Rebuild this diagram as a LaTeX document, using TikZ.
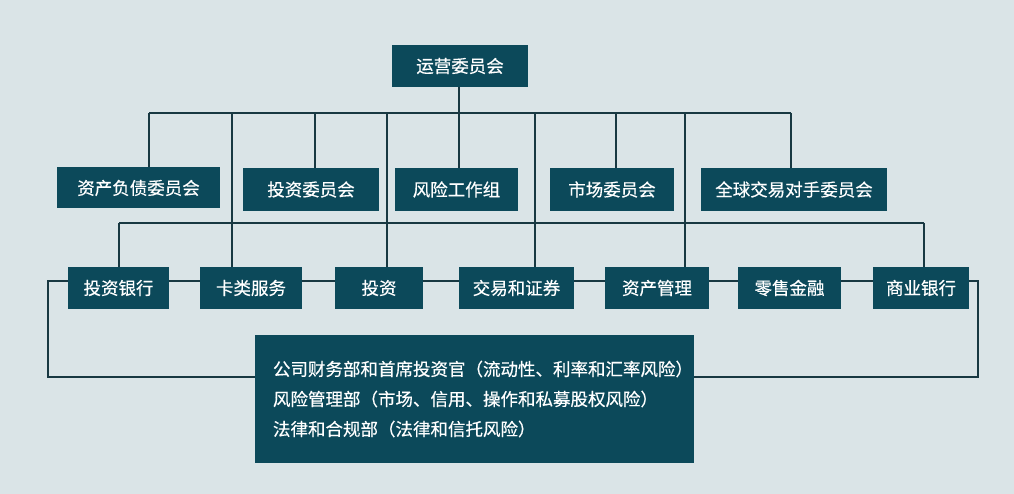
\documentclass[tikz,border=0pt]{standalone}
\usepackage{fontspec}
\setmainfont[FakeBold=0.4,AutoFakeBold=false]{Noto Sans CJK SC}
\definecolor{bgc}{RGB}{218,228,231}
\definecolor{boxc}{RGB}{12,73,90}
\definecolor{linec}{RGB}{24,56,66}
\begin{document}
\begin{tikzpicture}[x=1pt,y=-1pt,
  orgbox/.style={fill=boxc,text=white,inner sep=0pt,minimum height=42pt,
    font=\fontsize{17.5}{20}\selectfont},
  conn/.style={draw=linec,line width=1.3pt}]
\fill[bgc] (0,0) rectangle (1014,494);
\useasboundingbox (0,0) rectangle (1014,494);
% top
\node[orgbox,minimum width=136pt] (top) at (460,66) {运营委员会};
% committees
\node[orgbox,minimum width=163pt,minimum height=41pt] (A1) at (138.5,188) {资产负债委员会};
\node[orgbox,minimum width=136pt,minimum height=43pt] (A2) at (311,189.5) {投资委员会};
\node[orgbox,minimum width=123pt,minimum height=43pt] (A3) at (456.5,189.5) {风险工作组};
\node[orgbox,minimum width=124pt,minimum height=43pt] (A4) at (612,189.5) {市场委员会};
\node[orgbox,minimum width=186pt,minimum height=43pt] (A5) at (794,189.5) {全球交易对手委员会};
% business units
\node[orgbox,minimum width=101pt] (B1) at (118.5,288) {投资银行};
\node[orgbox,minimum width=102pt] (B2) at (251,288) {卡类服务};
\node[orgbox,minimum width=88pt] (B3) at (379,288) {投资};
\node[orgbox,minimum width=115pt] (B4) at (516.5,288) {交易和证券};
\node[orgbox,minimum width=104pt] (B5) at (657,288) {资产管理};
\node[orgbox,minimum width=103pt] (B6) at (789.5,288) {零售金融};
\node[orgbox,minimum width=96pt] (B7) at (921,288) {商业银行};
% bottom
\node[fill=boxc,text=white,minimum width=439pt,minimum height=128pt,
  inner xsep=18pt,inner ysep=0pt,text width=403pt,align=left,
  font=\fontsize{17.5}{30}\selectfont] (C) at (474.5,399)
  {公司财务部和首席投资官（流动性、利率和汇率风险）\\
   风险管理部（市场、信用、操作和私募股权风险）\\
   法律和合规部（法律和信托风险）};
% coordinates
\coordinate (hl) at (0,281);
\coordinate (lp) at (0,377);
\coordinate (L) at (48,281);
\coordinate (R) at (978,281);
\coordinate (t1) at (149,113);
\coordinate (t2) at (232,113);
\coordinate (t3) at (315,113);
\coordinate (t4) at (387,113);
\coordinate (t5) at (459,113);
\coordinate (t6) at (535,113);
\coordinate (t7) at (616,113);
\coordinate (t8) at (685,113);
\coordinate (t9) at (791,113);
\coordinate (u1) at (119,223);
\coordinate (u2) at (924,223);
% connectors
\draw[conn] (top.south -| t5) -- (t5);
\draw[conn] (t1) -- (t9);
\draw[conn] (t1) -- (t1 |- A1.north);
\draw[conn] (t3) -- (t3 |- A2.north);
\draw[conn] (t5) -- (t5 |- A3.north);
\draw[conn] (t7) -- (t7 |- A4.north);
\draw[conn] (t9) -- (t9 |- A5.north);
\draw[conn] (t2) -- (t2 |- B2.north);
\draw[conn] (t4) -- (t4 |- B3.north);
\draw[conn] (t6) -- (t6 |- B4.north);
\draw[conn] (t8) -- (t8 |- B5.north);
\draw[conn] (u1) -- (u2);
\draw[conn] (u1) -- (u1 |- B1.north);
\draw[conn] (u2) -- (u2 |- B7.north);
\draw[conn] (B1.east |- hl) -- (B2.west |- hl);
\draw[conn] (B2.east |- hl) -- (B3.west |- hl);
\draw[conn] (B3.east |- hl) -- (B4.west |- hl);
\draw[conn] (B4.east |- hl) -- (B5.west |- hl);
\draw[conn] (B5.east |- hl) -- (B6.west |- hl);
\draw[conn] (B6.east |- hl) -- (B7.west |- hl);
\draw[conn] (B1.west |- hl) -- (L) -- (L |- lp) -- (C.west |- lp);
\draw[conn] (B7.east |- hl) -- (R) -- (R |- lp) -- (C.east |- lp);
\end{tikzpicture}
\end{document}
